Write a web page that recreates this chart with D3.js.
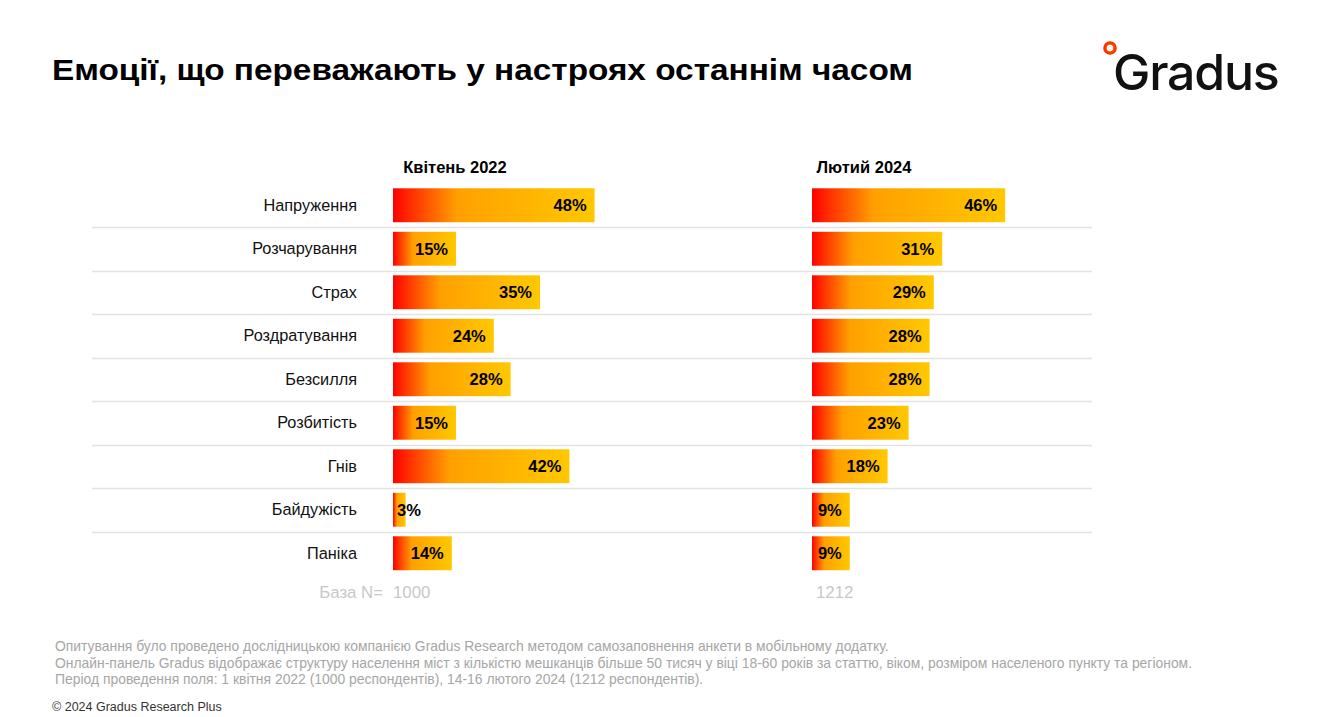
<!DOCTYPE html>
<html><head><meta charset="utf-8">
<script src="https://cdn.jsdelivr.net/npm/d3@7"></script>
<style>
html,body{margin:0;padding:0;background:#fff;}
svg{display:block;font-family:"Liberation Sans",Arial,sans-serif;}
</style></head>
<body><svg id="chart" width="1328" height="717"></svg>
<script>
const categories = ["Напруження","Розчарування","Страх","Роздратування","Безсилля","Розбитість","Гнів","Байдужість","Паніка"];
const values2022 = [48,15,35,24,28,15,42,3,14];
const values2024 = [46,31,29,28,28,23,18,9,9];
const periods = ["Квітень 2022","Лютий 2024"];
const bases = ["1000","1212"];
const title = "Емоції, що переважають у настроях останнім часом";
const footnotes = [
  "Опитування було проведено дослідницькою компанією Gradus Research методом самозаповнення анкети в мобільному додатку.",
  "Онлайн-панель Gradus відображає структуру населення міст з кількістю мешканців більше 50 тисяч у віці 18-60 років за статтю, віком, розміром населеного пункту та регіоном.",
  "Період проведення поля: 1 квітня 2022 (1000 респондентів), 14-16 лютого 2024 (1212 респондентів)."
];
const copyright = "© 2024 Gradus Research Plus";

const svg = d3.select("#chart");
const defs = svg.append("defs");
const grad = defs.append("linearGradient").attr("id","barGrad").attr("x1","0").attr("x2","1").attr("y1","0").attr("y2","0");
grad.append("stop").attr("offset","0").attr("stop-color","#ff0000");
grad.append("stop").attr("offset","0.08").attr("stop-color","#ff2a00");
grad.append("stop").attr("offset","0.32").attr("stop-color","#ffa000");
grad.append("stop").attr("offset","1").attr("stop-color","#ffc800");

const lg = defs.append("radialGradient").attr("id","logoGrad");
lg.append("stop").attr("offset","0").attr("stop-color","#ffb000");
lg.append("stop").attr("offset","1").attr("stop-color","#ff3000");

// title
svg.append("text").attr("x",52).attr("y",80).attr("font-size",30).attr("font-weight","bold").attr("fill","#000")
  .attr("textLength",861).attr("lengthAdjust","spacingAndGlyphs").text(title);

// logo
svg.append("circle").attr("cx",1110).attr("cy",48).attr("r",5).attr("fill","none").attr("stroke","url(#logoGrad)").attr("stroke-width",3.6);
svg.append("text").attr("x",1113).attr("y",90).attr("font-family","Inter, 'Open Sans', sans-serif").attr("font-size",50).attr("font-weight",500).attr("letter-spacing",-1.2).attr("fill","#111").text("Gradus");

const y = d3.scaleBand().domain(categories).range([183.5, 575]).paddingInner(0.22).paddingOuter(0.11);
const step = y.step();
const x = d3.scaleLinear().domain([0,100]).range([0,420]);
const panelX = [393, 812];
const data = [values2022, values2024];

// separators
const seps = categories.slice(0,-1);
svg.append("g").selectAll("line").data(seps).join("line")
  .attr("x1",92).attr("x2",1092)
  .attr("y1",d=>Math.round(y(d)+y.bandwidth()+ (step - y.bandwidth())/2)+0.5)
  .attr("y2",d=>Math.round(y(d)+y.bandwidth()+ (step - y.bandwidth())/2)+0.5)
  .attr("stroke","#e3e3e3").attr("stroke-width",1.5);

// category labels
svg.append("g").selectAll("text").data(categories).join("text")
  .attr("x",357).attr("y",d=>y(d)+y.bandwidth()/2).attr("dy","0.35em")
  .attr("text-anchor","end").attr("font-size",16.3).attr("fill","#111").text(d=>d);

data.forEach((vals,pi)=>{
  const x0 = panelX[pi];
  const g = svg.append("g").attr("transform",`translate(${x0},0)`);
  g.append("text").attr("x",62 + (pi===1? -10:0)).attr("y",173).attr("text-anchor","middle")
    .attr("font-size",16.5).attr("font-weight","bold").attr("fill","#000").text(periods[pi]);
  const rows = g.selectAll("g.row").data(categories.map((c,i)=>({c,v:vals[i]}))).join("g").attr("class","row");
  rows.append("rect").attr("x",0).attr("y",d=>y(d.c)).attr("width",d=>x(d.v)).attr("height",y.bandwidth())
    .attr("fill","url(#barGrad)");
  rows.append("text").attr("y",d=>y(d.c)+y.bandwidth()/2).attr("dy","0.36em")
    .attr("text-anchor","end").attr("font-size",16.5).attr("font-weight","bold").attr("fill","#000")
    .text(d=>d.v+"%")
    .attr("x",function(d){const w=this.getComputedTextLength(); return Math.max(x(d.v)-8, 4+w);});
  g.append("text").attr("x",pi===0?0:4).attr("y",598).attr("font-size",16.8).attr("fill","#c8c8c8").text(bases[pi]);
});
svg.append("text").attr("x",383).attr("y",598).attr("text-anchor","end").attr("font-size",16.8).attr("fill","#c8c8c8").text("База N=");

// footnotes
svg.append("g").selectAll("text").data(footnotes).join("text")
  .attr("x",55).attr("y",(d,i)=>651+i*16.5).attr("font-size",13.9).attr("fill","#a6a6a6").text(d=>d);
svg.append("text").attr("x",52).attr("y",711).attr("font-size",12.5).attr("fill","#333").text(copyright);
</script></body></html>
